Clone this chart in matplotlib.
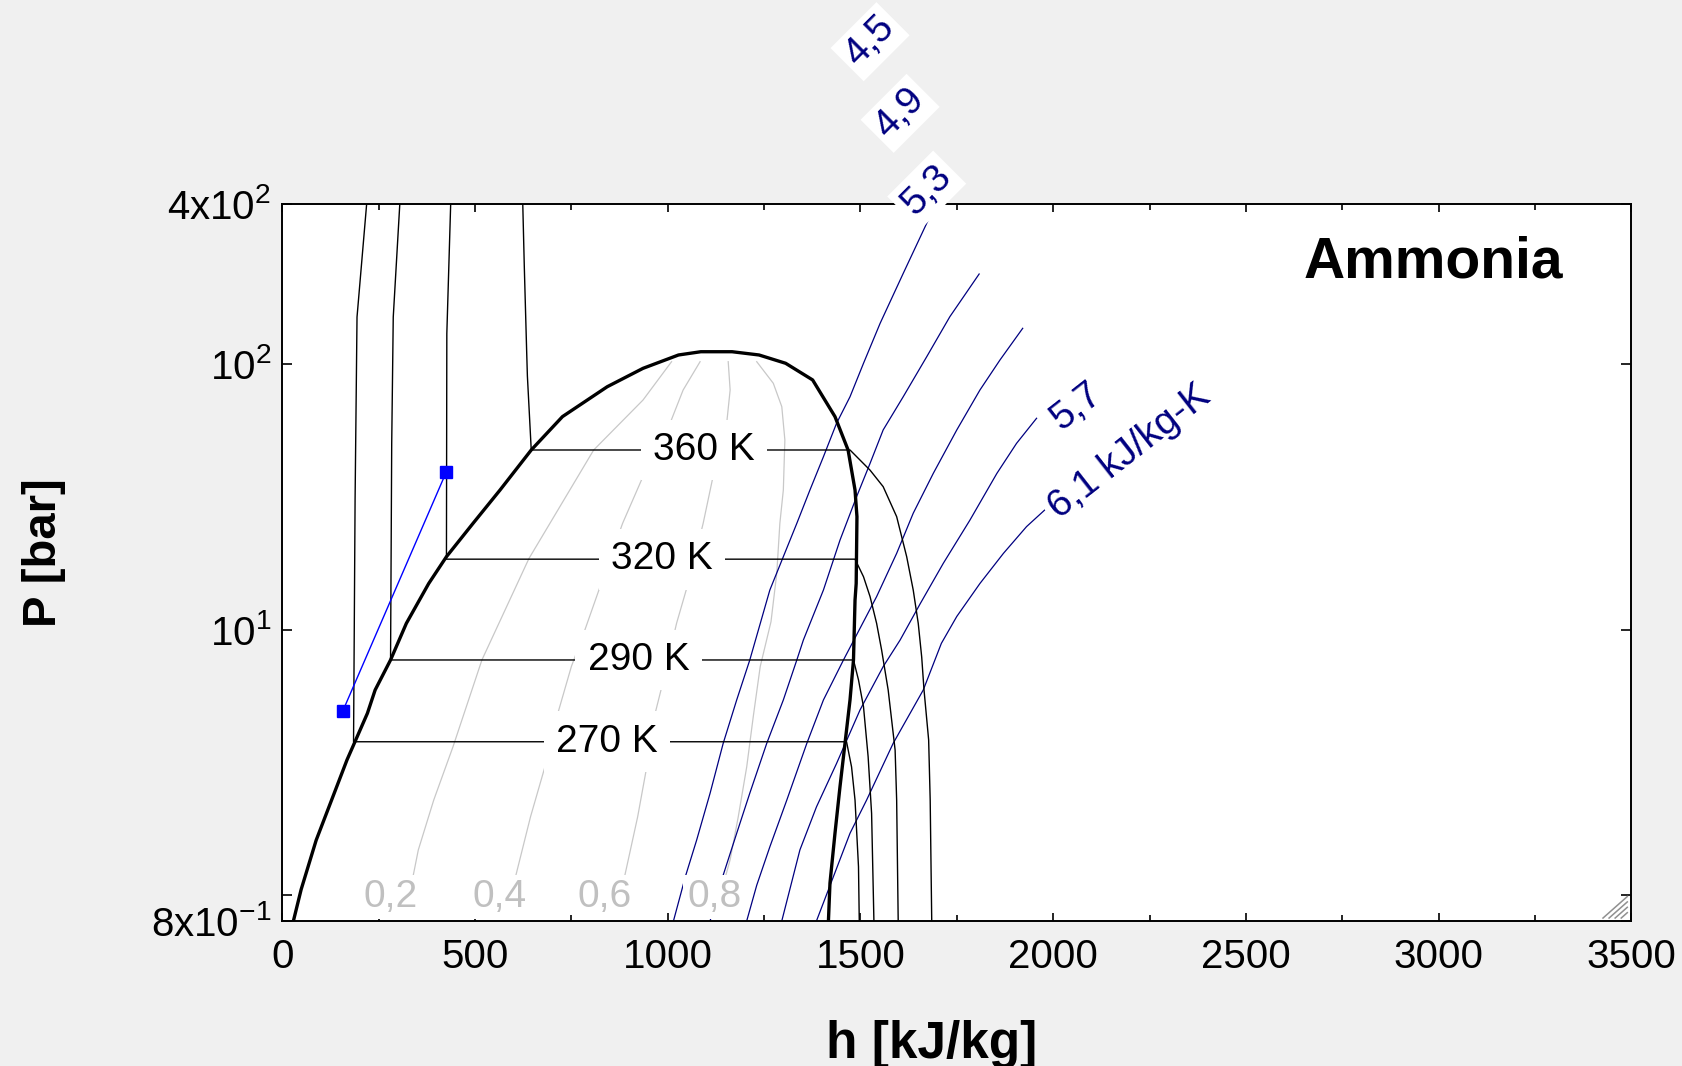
import matplotlib
matplotlib.use('Agg')
import matplotlib.pyplot as plt
from matplotlib.ticker import FixedLocator, MultipleLocator, NullLocator

plt.rcParams['font.family'] = ['Liberation Sans', 'DejaVu Sans']
plt.rcParams['mathtext.fontset'] = 'custom'
plt.rcParams['mathtext.rm'] = 'Liberation Sans'
plt.rcParams['mathtext.default'] = 'regular'

# saturation dome (liquid side up, vapour side down)
dome_h = [29, 49, 88, 128, 168, 183, 221, 241, 281, 322, 380, 426, 495, 565, 646, 727,
          843, 936, 1028, 1086, 1167, 1237, 1306, 1376, 1434, 1468, 1486, 1491, 1489,
          1486, 1482, 1473, 1460, 1447, 1434, 1421, 1417]
dome_P = [0.8, 1.05, 1.61, 2.28, 3.23, 3.62, 4.84, 5.92, 7.68, 10.55, 14.9, 18.8, 25.1, 33.5, 47.4, 63.3,
          82.0, 96.2, 108.0, 111.1, 111.1, 108.0, 100.5, 87.0, 63.3, 47.4, 33.5, 26.6, 14.9,
          12.9, 7.68, 5.43, 3.73, 2.56, 1.71, 1.11, 0.8]

# isotherms
t270_h = [219, 194, 189, 185, 1464, 1477, 1486, 1495, 1497]
t270_P = [400, 150, 31, 3.78, 3.78, 3.04, 2.28, 1.28, 0.8]
t290_h = [305, 288, 284, 281, 1482, 1495, 1508, 1520, 1529, 1535]
t290_P = [400, 150, 50, 7.68, 7.68, 6.46, 5.12, 3.32, 2.03, 0.8]
t320_h = [437, 427, 426, 1486, 1508, 1525, 1542, 1555, 1572, 1590, 1594, 1598]
t320_P = [400, 130, 18.4, 18.4, 15.8, 13.3, 10.55, 8.37, 5.92, 3.52, 2.28, 0.8]
t360_h = [624, 628, 634, 636, 646, 1473, 1525, 1559, 1594, 1620, 1637, 1650, 1659, 1665, 1677, 1681, 1685]
t360_P = [400, 232, 113, 90, 47.4, 47.4, 39.8, 34.5, 26.6, 18.8, 14.08, 10.55, 7.87, 5.92, 3.84, 2.28, 0.8]

iso_names = ['270 K', '290 K', '320 K', '360 K']
iso_label_h = [843, 924, 985, 1094]
iso_label_P = [3.78, 7.68, 18.4, 47.4]

# constant quality lines
q02_h = [1010, 936, 808, 640, 518, 443, 393, 353, 340]
q02_P = [101.9, 73.1, 47.4, 18.5, 7.68, 3.62, 2.28, 1.48, 1.19]
q04_h = [1084, 1040, 1006, 947, 883, 831, 779, 750, 715, 684, 644, 605]
q04_P = [101.9, 79.7, 59.7, 41.0, 25.1, 15.4, 9.4, 7.25, 4.84, 3.13, 1.97, 1.17]
q06_h = [1157, 1162, 1153, 1123, 1092, 1058, 1023, 988, 962, 949, 922, 889]
q06_P = [101.9, 79.7, 59.7, 41.0, 25.1, 15.8, 10.55, 6.36, 4.5, 3.23, 1.97, 1.19]
q08_h = [1231, 1274, 1296, 1304, 1300, 1291, 1283, 1268, 1240, 1222, 1205, 1183, 1162, 1151]
q08_P = [101.9, 84.5, 69.0, 51.7, 33.5, 25.1, 16.3, 10.7, 7.25, 4.70, 3.04, 1.97, 1.36, 1.19]

q_names = ['0,2', '0,4', '0,6', '0,8']
q_label_h = [280, 565, 836, 1121]
q_label_P = [0.986, 0.986, 0.986, 0.986]

# isentropes [kJ/kg-K]
s45_h = [1678, 1611, 1551, 1508, 1473, 1438, 1404, 1369, 1335, 1300, 1265, 1213, 1179, 1144, 1110, 1075, 1047, 1015]
s45_P = [353, 219, 142, 100.5, 75.2, 59.7, 44.7, 33.5, 25.1, 18.8, 14.08, 7.68, 5.43, 3.73, 2.42, 1.61, 1.19, 0.8]
s49_h = [1808, 1732, 1672, 1611, 1559, 1525, 1490, 1447, 1404, 1352, 1335, 1300, 1257, 1213, 1179, 1144, 1110]
s49_P = [217.9, 150.5, 106.4, 75.2, 56.4, 42.2, 31.6, 21.7, 14.08, 9.13, 7.68, 5.43, 3.73, 2.42, 1.71, 1.19, 0.8]
s53_h = [1921, 1862, 1810, 1750, 1689, 1637, 1594, 1542, 1456, 1404, 1361, 1309, 1265, 1231, 1205]
s53_P = [136.1, 103.4, 79.7, 56.4, 38.7, 27.4, 19.35, 13.3, 7.68, 5.43, 3.73, 2.28, 1.52, 1.09, 0.8]
s57_h = [1957, 1905, 1854, 1784, 1715, 1655, 1603, 1559, 1499, 1438, 1386, 1343, 1296]
s57_P = [62.4, 50.2, 38.7, 25.8, 17.75, 12.5, 9.13, 7.25, 4.98, 3.13, 2.15, 1.48, 0.8]
s61_h = [1983, 1931, 1871, 1810, 1750, 1710, 1663, 1585, 1516, 1473, 1386]
s61_P = [28.6, 24.4, 19.35, 14.9, 11.2, 8.87, 5.92, 3.73, 2.28, 1.71, 0.8]

s_names = ['4,5', '4,9', '5,3', '5,7', '6,1 kJ/kg-K']
s_label_h = [1525, 1603, 1672, 2061, 2199]
s_label_P = [1632, 877, 451, 69.0, 46.7]
s_label_rot = [45, 45, 45, 38, 38]

# process line
proc_h = [157, 426]
proc_P = [4.93, 39.3]

fig = plt.figure(figsize=(16.83, 10.66), dpi=100, facecolor='#f0f0f0')
ax = fig.add_axes([0.1677, 0.1361, 0.8016, 0.6726])
ax.set_facecolor('white')
ax.set_yscale('log')
ax.set_xlim(0, 3500)
ax.set_ylim(0.8, 400)

# quality lines
for hh, pp in [(q02_h, q02_P), (q04_h, q04_P), (q06_h, q06_P), (q08_h, q08_P)]:
    ax.plot(hh, pp, color='#c8c8c8', lw=0.9, zorder=1)
for name, hh, pp in zip(q_names, q_label_h, q_label_P):
    ax.text(hh, pp, name, color='#c0c0c0', fontsize=28, ha='center', va='center', zorder=5,
            bbox=dict(facecolor='white', edgecolor='none', pad=3))

# isentropes
for hh, pp in [(s45_h, s45_P), (s49_h, s49_P), (s53_h, s53_P), (s57_h, s57_P), (s61_h, s61_P)]:
    ax.plot(hh, pp, color='#000080', lw=0.9, zorder=2)
for name, hh, pp, rot in zip(s_names, s_label_h, s_label_P, s_label_rot):
    ax.text(hh, pp, name, color='#000080', fontsize=28, ha='center', va='center',
            rotation=rot, rotation_mode='anchor', zorder=10, clip_on=False,
            bbox=dict(facecolor='white', edgecolor='none', pad=4))

# isotherms
for hh, pp in [(t270_h, t270_P), (t290_h, t290_P), (t320_h, t320_P), (t360_h, t360_P)]:
    ax.plot(hh, pp, color='black', lw=1.0, zorder=2)
for name, hh, pp in zip(iso_names, iso_label_h, iso_label_P):
    ax.text(hh, pp, name, color='black', fontsize=28, ha='center', va='center', zorder=5,
            bbox=dict(facecolor='white', edgecolor='none', pad=9))

# dome
ax.plot(dome_h, dome_P, color='black', lw=2.4, zorder=3)

# process
ax.plot(proc_h, proc_P, color='#0000ff', lw=1.0, marker='s', markersize=8, zorder=4)

ax.text(0.853, 0.918, 'Ammonia', transform=ax.transAxes, fontsize=41, fontweight='bold',
        ha='center', va='center')

# resize grip in the corner
for k in range(1, 5):
    ax.plot([0.997 - 0.0045 * k, 0.997], [0.004, 0.004 + 0.0075 * k], transform=ax.transAxes,
            color='#909090', lw=1.1, zorder=6, clip_on=False)

ax.xaxis.set_major_locator(MultipleLocator(500))
ax.xaxis.set_minor_locator(MultipleLocator(250))
ax.yaxis.set_major_locator(FixedLocator([0.8, 1, 10, 100, 400]))
ax.yaxis.set_minor_locator(NullLocator())
ax.set_yticklabels([r'$8x10^{-1}$', '', r'$10^{1}$', r'$10^{2}$', r'$4x10^{2}$'])

ax.tick_params(which='both', direction='in', top=True, right=True, labelsize=29, width=1.2)
ax.tick_params(axis='x', which='major', length=6, pad=12)
ax.tick_params(axis='x', which='minor', length=4)
ax.tick_params(axis='y', which='major', length=7, pad=8)
for sp in ax.spines.values():
    sp.set_linewidth(1.4)

ax.set_xlabel('h [kJ/kg]', fontsize=37, fontweight='bold')
ax.xaxis.set_label_coords(0.481, -0.138)
ax.set_ylabel('P [bar]', fontsize=34, fontweight='bold')
ax.yaxis.set_label_coords(-0.160, 0.513)

fig.savefig('out.png', dpi=100, facecolor=fig.get_facecolor())
